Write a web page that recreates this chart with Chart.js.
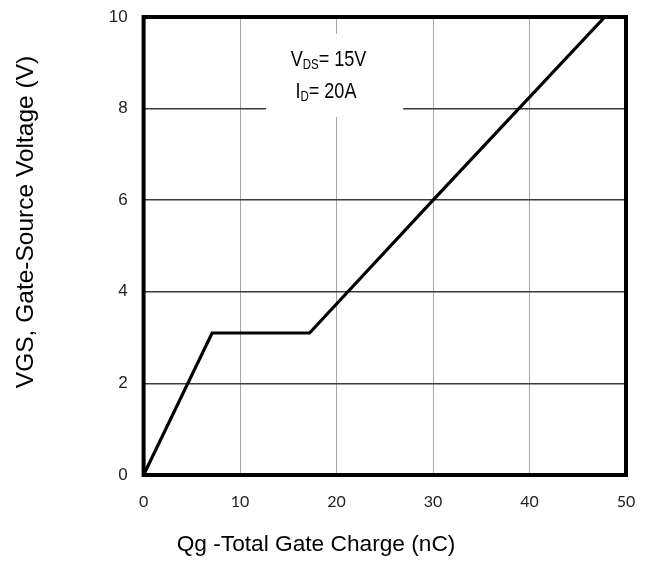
<!DOCTYPE html>
<html>
<head>
<meta charset="utf-8">
<script src="https://cdn.jsdelivr.net/npm/chart.js@4.4.1/dist/chart.umd.min.js"></script>
<style>
html,body{margin:0;padding:0;background:#fff;}
#wrap{width:651px;height:563px;position:relative;}
</style>
</head>
<body>
<div id="wrap"><canvas id="c" width="651" height="563"></canvas></div>
<script>
// Data
const qgCharge = [0, 7.1, 17.2, 30, 47.8];      // nC
const vgsVoltage = [0, 3.1, 3.1, 6, 10];        // V
const xTicks = [0, 10, 20, 30, 40, 50];
const yTicks = [0, 2, 4, 6, 8, 10];
const xTitle = 'Qg -Total Gate Charge (nC)';
const yTitle = 'VGS, Gate-Source Voltage (V)';
const noteLines = [['V', 'DS', '= 15V'], ['I', 'D', '= 20A']];
const noteAnchors = [[19.17, 8.94], [18.9, 8.24]];   // data coords of each note line (centre x, baseline y)
const noteBox = [12.7, 26.9, 9.63, 7.82];            // data coords: x from, x to, y top, y bottom

const points = qgCharge.map((x, i) => ({x: x, y: vgsVoltage[i]}));
const SANS = '"Liberation Sans", Arial, sans-serif';
const SQUEEZE = 0.82;

const framePlugin = {
  id: 'framePlugin',
  beforeDatasetsDraw(chart) {
    const ctx = chart.ctx, xs = chart.scales.x, ys = chart.scales.y;
    const l = xs.getPixelForValue(noteBox[0]), r = xs.getPixelForValue(noteBox[1]);
    const t = ys.getPixelForValue(noteBox[2]), b = ys.getPixelForValue(noteBox[3]);
    ctx.save();
    ctx.fillStyle = '#fff';
    ctx.fillRect(l, t, r - l, b - t);
    ctx.fillStyle = '#000';
    ctx.textBaseline = 'alphabetic';
    ctx.textAlign = 'left';
    noteLines.forEach((parts, i) => {
      const big = '22px ' + SANS;
      const small = '14px ' + SANS;
      ctx.font = big; const w0 = ctx.measureText(parts[0]).width;
      const w2 = ctx.measureText(parts[2]).width;
      ctx.font = small; const w1 = ctx.measureText(parts[1]).width;
      const total = (w0 + w1 + w2) * SQUEEZE;
      const cx = xs.getPixelForValue(noteAnchors[i][0]) - total / 2;
      const y = ys.getPixelForValue(noteAnchors[i][1]);
      ctx.save();
      ctx.translate(cx, y);
      ctx.scale(SQUEEZE, 1);
      let x = 0;
      ctx.font = big; ctx.fillText(parts[0], x, 0); x += w0;
      ctx.font = small; ctx.fillText(parts[1], x, 3); x += w1;
      ctx.font = big; ctx.fillText(parts[2], x, 0);
      ctx.restore();
    });
    ctx.restore();
  },
  afterDatasetsDraw(chart) {
    const ctx = chart.ctx, a = chart.chartArea;
    ctx.save();
    ctx.strokeStyle = '#000';
    ctx.lineWidth = 4;
    ctx.strokeRect(a.left, a.top, a.right - a.left, a.bottom - a.top);
    ctx.restore();
  },
  afterDraw(chart) {
    const ctx = chart.ctx;
    ctx.save();
    ctx.fillStyle = '#000';
    ctx.textAlign = 'center';
    ctx.textBaseline = 'middle';
    ctx.font = '22.7px ' + SANS;
    ctx.fillText(xTitle, 316, 545);
    ctx.font = '24.5px ' + SANS;
    ctx.translate(26, 222);
    ctx.rotate(-Math.PI / 2);
    ctx.fillText(yTitle, 0, 0);
    ctx.restore();
  }
};

new Chart(document.getElementById('c'), {
  type: 'line',
  data: {
    datasets: [{
      data: points,
      borderColor: '#000',
      borderWidth: 3.2,
      pointRadius: 0,
      tension: 0,
      fill: false
    }]
  },
  options: {
    responsive: false,
    animation: false,
    devicePixelRatio: 1,
    layout: {padding: {top: 17, right: 25, left: 0, bottom: 0}},
    plugins: {legend: {display: false}, tooltip: {enabled: false}},
    scales: {
      x: {
        type: 'linear', min: 0, max: 50,
        afterBuildTicks(s) { s.ticks = xTicks.map(v => ({value: v})); },
        afterFit(s) { s.height = 88; s.paddingLeft = 0; s.paddingRight = 0; },
        grid: {color: '#a6a6a6', lineWidth: 1, drawTicks: false},
        border: {display: false},
        ticks: {
          padding: 17, color: '#222',
          font: {family: 'Lato, "Open Sans", sans-serif', size: 16},
          maxRotation: 0
        }
      },
      y: {
        type: 'linear', min: 0, max: 10,
        afterBuildTicks(s) { s.ticks = yTicks.map(v => ({value: v})); },
        afterFit(s) { s.width = 143.6; s.paddingTop = 0; s.paddingBottom = 0; },
        grid: {color: '#3a3a3a', lineWidth: 1.5, drawTicks: false},
        border: {display: false},
        ticks: {
          padding: 16, color: '#222',
          font: {family: SANS, size: 17}
        }
      }
    }
  },
  plugins: [framePlugin]
});
</script>
</body>
</html>
